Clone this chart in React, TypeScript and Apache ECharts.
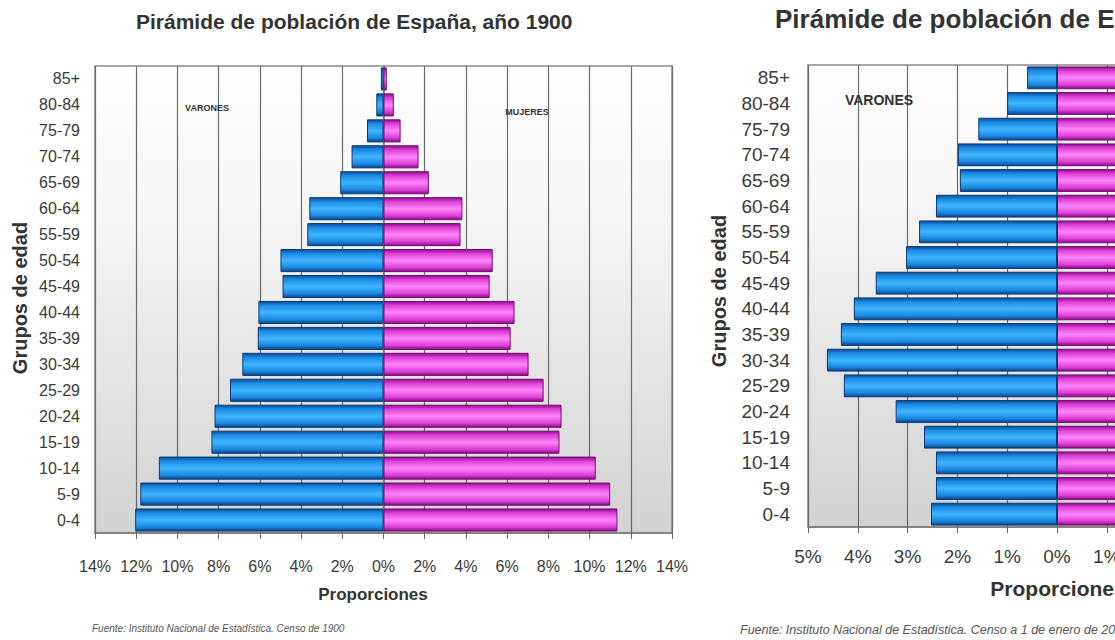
import React, { useEffect, useRef } from "react";
import * as echarts from "echarts";

const ageGroups = ["0-4", "5-9", "10-14", "15-19", "20-24", "25-29", "30-34", "35-39", "40-44", "45-49", "50-54", "55-59", "60-64", "65-69", "70-74", "75-79", "80-84", "85+"];

// Spain 1900 (percent of total population)
const men1900 = [12.05, 11.8, 10.9, 8.35, 8.2, 7.45, 6.85, 6.1, 6.07, 4.9, 5.0, 3.7, 3.6, 2.1, 1.55, 0.8, 0.35, 0.13];
const women1900 = [11.35, 11.0, 10.3, 8.54, 8.64, 7.77, 7.04, 6.17, 6.36, 5.15, 5.3, 3.74, 3.83, 2.2, 1.7, 0.83, 0.5, 0.16];

// Spain, recent census (percent), men readable; women bars run off the picture
const menRecent = [2.53, 2.43, 2.43, 2.67, 3.24, 4.28, 4.62, 4.34, 4.08, 3.64, 3.03, 2.77, 2.43, 1.95, 1.99, 1.58, 1.0, 0.6];
const womenRecent = [2.4, 2.3, 2.3, 2.5, 3.1, 4.0, 4.3, 4.1, 3.9, 3.6, 3.0, 2.8, 2.5, 2.1, 2.2, 2.0, 1.5, 1.3];

const ticks1900 = { min: -14, max: 14, interval: 2 };
const ticksRecent = { min: -5, max: 5, interval: 1 };

const SANS = "'Liberation Sans', Arial, sans-serif";

const blueGrad = () =>
  new echarts.graphic.LinearGradient(0, 0, 0, 1, [
    { offset: 0, color: "#0b4c96" },
    { offset: 0.18, color: "#1b8ae4" },
    { offset: 0.5, color: "#3fb6ff" },
    { offset: 0.82, color: "#1a86e0" },
    { offset: 1, color: "#0a4488" },
  ]);
const pinkGrad = () =>
  new echarts.graphic.LinearGradient(0, 0, 0, 1, [
    { offset: 0, color: "#8e0f8a" },
    { offset: 0.18, color: "#dc3ed6" },
    { offset: 0.5, color: "#ff86fa" },
    { offset: 0.82, color: "#dc3ed6" },
    { offset: 1, color: "#860c82" },
  ]);
const bgGrad = () =>
  new echarts.graphic.LinearGradient(0, 0, 0, 1, [
    { offset: 0, color: "#ffffff" },
    { offset: 0.35, color: "#f4f4f4" },
    { offset: 1, color: "#d2d2d2" },
  ]);

export default function App() {
  const ref = useRef<HTMLDivElement>(null);
  useEffect(() => {
    if (!ref.current) return;
    const chart = echarts.init(ref.current, undefined, { renderer: "svg" });
    const pct = (v: number) => Math.abs(Math.round(v)) + "%";
    const mkX = (grid: number, t: any, size: number, margin: number) => ({
      type: "value",
      gridIndex: grid,
      min: t.min,
      max: t.max,
      interval: t.interval,
      axisLabel: { formatter: pct, fontFamily: SANS, fontSize: size, color: "#3a3a3a", margin },
      axisLine: { show: true, lineStyle: { color: "#7a7a7a", width: 1.5 } },
      axisTick: { show: true, length: 6, lineStyle: { color: "#666" } },
      splitLine: { show: true, lineStyle: { color: "#6a6a6a", width: 1.2 } },
    });
    const mkY = (grid: number, size: number, margin: number) => ({
      type: "category",
      gridIndex: grid,
      data: ageGroups,
      axisLabel: { fontFamily: SANS, fontSize: size, color: "#3a3a3a", margin, interval: 0 },
      axisTick: { show: false },
      axisLine: { show: true, lineStyle: { color: "#7a7a7a", width: 1.5 } },
    });
    const mkBar = (grid: number, data: number[], grad: any, border: string) => ({
      type: "bar",
      xAxisIndex: grid,
      yAxisIndex: grid,
      data,
      barGap: "-100%",
      barCategoryGap: "11%",
      itemStyle: { color: grad, borderColor: border, borderWidth: 1 },
    });
    chart.setOption({
      animation: false,
      backgroundColor: "#ffffff",
      title: [
        {
          text: "Pirámide de población de España, año 1900",
          left: 136,
          top: 11,
          padding: 0,
          textStyle: { fontFamily: SANS, fontSize: 21, fontWeight: "bold", color: "#333" },
        },
        {
          text: "Pirámide de población de España, año 2008",
          left: 775,
          top: 6,
          padding: 0,
          textStyle: { fontFamily: SANS, fontSize: 26, fontWeight: "bold", color: "#333" },
        },
      ],
      grid: [
        { left: 95, top: 66, width: 577, height: 467, show: true, backgroundColor: bgGrad(), borderColor: "#8a8a8a", borderWidth: 1.5 },
        { left: 808, top: 65, width: 498, height: 462, show: true, backgroundColor: bgGrad(), borderColor: "#8a8a8a", borderWidth: 1.5 },
      ],
      xAxis: [mkX(0, ticks1900, 16, 25), mkX(1, ticksRecent, 19, 20)],
      yAxis: [mkY(0, 16, 15), mkY(1, 19, 18)],
      series: [
        mkBar(0, men1900.map((v) => -v), blueGrad(), "#0a3a78"),
        mkBar(0, women1900, pinkGrad(), "#7a0a76"),
        mkBar(1, menRecent.map((v) => -v), blueGrad(), "#0a3a78"),
        mkBar(1, womenRecent, pinkGrad(), "#7a0a76"),
      ],
      graphic: [
        { type: "text", x: 373, y: 594, style: { text: "Proporciones", fontFamily: SANS, fontSize: 17, fontWeight: "bold", fill: "#333", textAlign: "center", textVerticalAlign: "middle" } },
        { type: "text", x: 1058, y: 588, style: { text: "Proporciones", fontFamily: SANS, fontSize: 21, fontWeight: "bold", fill: "#333", textAlign: "center", textVerticalAlign: "middle" } },
        { type: "text", x: 20, y: 298, rotation: Math.PI / 2, style: { text: "Grupos de edad", fontFamily: SANS, fontSize: 20, fontWeight: "bold", fill: "#333", textAlign: "center", textVerticalAlign: "middle" } },
        { type: "text", x: 719, y: 291, rotation: Math.PI / 2, style: { text: "Grupos de edad", fontFamily: SANS, fontSize: 20, fontWeight: "bold", fill: "#333", textAlign: "center", textVerticalAlign: "middle" } },
        { type: "text", x: 207, y: 108, z: 10, style: { text: "VARONES", fontFamily: SANS, fontSize: 9, fontWeight: "bold", fill: "#333", textAlign: "center", textVerticalAlign: "middle" } },
        { type: "text", x: 527, y: 112, z: 10, style: { text: "MUJERES", fontFamily: SANS, fontSize: 9, fontWeight: "bold", fill: "#333", textAlign: "center", textVerticalAlign: "middle" } },
        { type: "text", x: 879, y: 100, z: 10, style: { text: "VARONES", fontFamily: SANS, fontSize: 14, fontWeight: "bold", fill: "#333", textAlign: "center", textVerticalAlign: "middle" } },
        { type: "text", x: 92, y: 628, style: { text: "Fuente: Instituto Nacional de Estadística. Censo de 1900", fontFamily: SANS, fontSize: 10, fontStyle: "italic", fill: "#555", textVerticalAlign: "middle" } },
        { type: "text", x: 740, y: 630, style: { text: "Fuente: Instituto Nacional de Estadística. Censo a 1 de enero de 2008", fontFamily: SANS, fontSize: 12.5, fontStyle: "italic", fill: "#555", textVerticalAlign: "middle" } },
      ],
    });
    return () => chart.dispose();
  }, []);
  return (
    <div style={{ position: "fixed", left: 0, top: 0, width: 1115, height: 640, overflow: "hidden", background: "#fff" }}>
      <div ref={ref} style={{ position: "absolute", left: 0, top: 0, width: 1400, height: 640 }} />
    </div>
  );
}
